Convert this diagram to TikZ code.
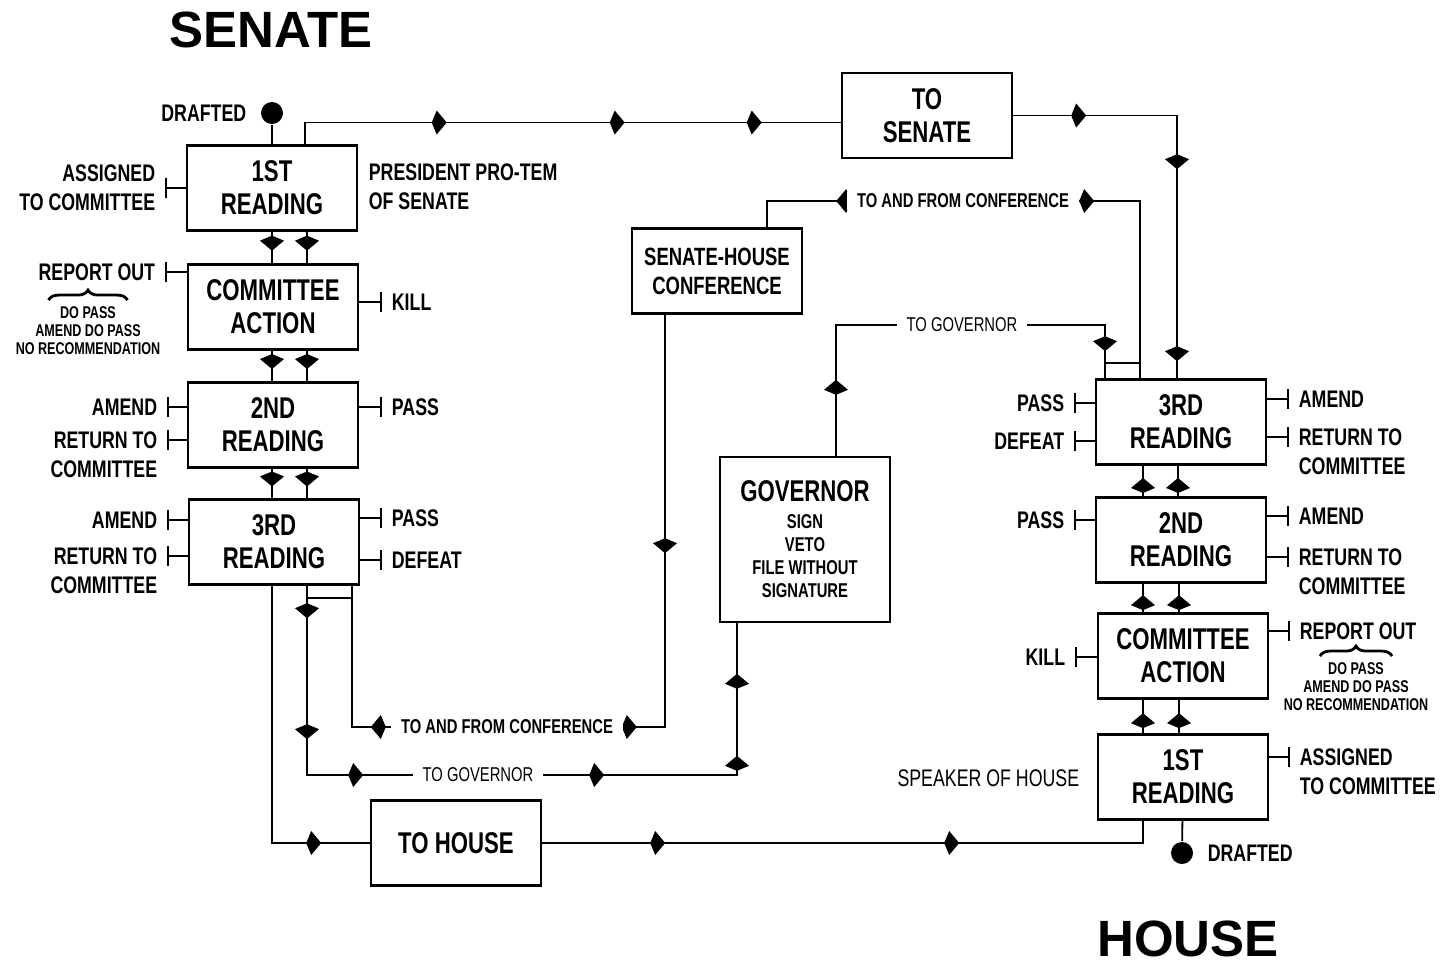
\documentclass[tikz,border=0pt]{standalone}
\usepackage{fontspec}
\setmainfont{Liberation Sans}
\newfontfamily\cond{Liberation Sans}[FakeStretch=0.74]
\usetikzlibrary{arrows.meta,decorations.markings,decorations.pathreplacing}

\tikzset{
  mk/.style={postaction={decorate,decoration={markings,
      mark=at position #1 with {\arrow{Kite[length=7.5pt,width=12pt,inset=2.5pt]}}}}},
  mkr/.style={postaction={decorate,decoration={markings,
      mark=at position #1 with {\arrowreversed{Kite[length=7.5pt,width=12pt,inset=2.5pt]}}}}},
}

\begin{document}
\begin{tikzpicture}[x=0.5pt,y=-0.5pt,line width=.9pt,
    box/.style={draw,line width=1.2pt,minimum width=85pt,minimum height=42.5pt,
      align=center,inner sep=0pt,font=\cond\bfseries\fontsize{15}{16.5}\selectfont},
    lbl/.style={inner xsep=4.5pt,inner ysep=0pt,font=\cond\bfseries\fontsize{12}{14.5}\selectfont},
    tiny/.style={inner sep=0pt,align=center,font=\cond\bfseries\fontsize{8.5}{9}\selectfont},
    online/.style={fill=white,inner xsep=5pt,inner ysep=1pt},
    stub/.style={-{Bar[width=10pt]}},
    brace/.style={decorate,line width=1.4pt,decoration={brace,amplitude=5pt}},
    dot/.style={circle,fill,inner sep=0pt,minimum size=11pt},
    title/.style={inner sep=0pt,font=\bfseries\fontsize{25.5}{28}\selectfont}]
  \useasboundingbox (0,0) rectangle (1446,966);

  \node[title] (senTitle) at (271,30) {SENATE};
  \node[title] (houTitle) at (1188,939) {HOUSE};

  % senate
  \node[dot,label={[lbl,label distance=2pt]left:DRAFTED}] (sdot) at (272,113) {};
  \node[box] (s1) at (272,188) {1ST\\READING};
  \node[box] (sc) at (273,307) {COMMITTEE\\ACTION};
  \node[box] (s2) at (273,425) {2ND\\READING};
  \node[box] (s3) at (274,542) {3RD\\READING};

  % middle
  \node[box] (toSen) at (927,115.5) {TO\\SENATE};
  \node[box,font=\cond\bfseries\fontsize{12.5}{14.5}\selectfont] (conf) at (717,271) {SENATE-HOUSE\\CONFERENCE};
  \node[box,minimum height=82.5pt,font=\cond\bfseries\fontsize{10}{11.5}\selectfont] (gov) at (805,539.5)
    {{\fontsize{15}{16.5}\selectfont GOVERNOR}\\[2pt] SIGN\\VETO\\FILE WITHOUT\\SIGNATURE};
  \node[box] (toHouse) at (456,843) {TO HOUSE};

  % house
  \node[box] (h3) at (1181,422) {3RD\\READING};
  \node[box] (h2) at (1181,540) {2ND\\READING};
  \node[box] (hc) at (1183,656) {COMMITTEE\\ACTION};
  \node[box] (h1) at (1183,777) {1ST\\READING};
  \node[dot,label={[lbl,label distance=2pt]right:DRAFTED}] (hdot) at (1182,853) {};

  \coordinate (cTop) at (1140,201);
  \coordinate (gTop) at (1105,325);
  \coordinate (cBot) at (352,727);
  \coordinate (gBot) at (737,775);

  % senate side labels
  \node[lbl,anchor=east,align=right] (sAssign) at (165,188) {ASSIGNED\\TO COMMITTEE};
  \node[lbl,anchor=west,align=left,inner xsep=0pt] (sPres) at (368,187) {PRESIDENT PRO-TEM\\OF SENATE};
  \node[lbl,anchor=east] (sReport) at (165,272) {REPORT OUT};
  \node[tiny] (sRec) at (88,331) {DO PASS\\AMEND DO PASS\\NO RECOMMENDATION};
  \node[lbl,anchor=west] (sKill) at (382,302) {KILL};
  \node[lbl,anchor=east] (s2Amend) at (167,407) {AMEND};
  \node[lbl,anchor=east,align=right] (s2Ret) at (167,454.5) {RETURN TO\\COMMITTEE};
  \node[lbl,anchor=west] (s2Pass) at (382,407) {PASS};
  \node[lbl,anchor=east] (s3Amend) at (167,520) {AMEND};
  \node[lbl,anchor=east,align=right] (s3Ret) at (167,570.5) {RETURN TO\\COMMITTEE};
  \node[lbl,anchor=west] (s3Pass) at (382,518) {PASS};
  \node[lbl,anchor=west] (s3Defeat) at (382,560) {DEFEAT};

  % house side labels
  \node[lbl,anchor=east] (h3Pass) at (1074,403) {PASS};
  \node[lbl,anchor=east] (h3Defeat) at (1074,441) {DEFEAT};
  \node[lbl,anchor=west] (h3Amend) at (1289,399) {AMEND};
  \node[lbl,anchor=west,align=left] (h3Ret) at (1289,451.5) {RETURN TO\\COMMITTEE};
  \node[lbl,anchor=east] (h2Pass) at (1074,520) {PASS};
  \node[lbl,anchor=west] (h2Amend) at (1289,516) {AMEND};
  \node[lbl,anchor=west,align=left] (h2Ret) at (1289,571.5) {RETURN TO\\COMMITTEE};
  \node[lbl,anchor=east] (hKill) at (1075,657) {KILL};
  \node[lbl,anchor=west] (hReport) at (1290,631) {REPORT OUT};
  \node[tiny] (hRec) at (1356,687) {DO PASS\\AMEND DO PASS\\NO RECOMMENDATION};
  \node[lbl,anchor=west,align=left] (hAssign) at (1290,771.5) {ASSIGNED\\TO COMMITTEE};
  \node[lbl,anchor=east,inner xsep=0pt,font=\cond\fontsize{12}{14.5}\selectfont] (hSpeak) at (1080,778) {SPEAKER OF HOUSE};

  % stubs
  \draw[stub] (s1.west |- sAssign.east) -- (sAssign.east);
  \draw[stub] (sc.west |- sReport.east) -- (sReport.east);
  \draw[stub] (sc.east |- sKill.west) -- (sKill.west);
  \draw[stub] (s2.west |- s2Amend.east) -- (s2Amend.east);
  \draw[stub] ([yshift=7.25pt]s2.west |- s2Ret.east) -- ([yshift=7.25pt]s2Ret.east);
  \draw[stub] (s2.east |- s2Pass.west) -- (s2Pass.west);
  \draw[stub] (s3.west |- s3Amend.east) -- (s3Amend.east);
  \draw[stub] ([yshift=7.25pt]s3.west |- s3Ret.east) -- ([yshift=7.25pt]s3Ret.east);
  \draw[stub] (s3.east |- s3Pass.west) -- (s3Pass.west);
  \draw[stub] (s3.east |- s3Defeat.west) -- (s3Defeat.west);
  \draw[stub] (h3.west |- h3Pass.east) -- (h3Pass.east);
  \draw[stub] (h3.west |- h3Defeat.east) -- (h3Defeat.east);
  \draw[stub] (h3.east |- h3Amend.west) -- (h3Amend.west);
  \draw[stub] ([yshift=7.25pt]h3.east |- h3Ret.west) -- ([yshift=7.25pt]h3Ret.west);
  \draw[stub] (h2.west |- h2Pass.east) -- (h2Pass.east);
  \draw[stub] (h2.east |- h2Amend.west) -- (h2Amend.west);
  \draw[stub] ([yshift=7.25pt]h2.east |- h2Ret.west) -- ([yshift=7.25pt]h2Ret.west);
  \draw[stub] (hc.west |- hKill.east) -- (hKill.east);
  \draw[stub] (hc.east |- hReport.west) -- (hReport.west);
  \draw[stub] ([yshift=7.25pt]h1.east |- hAssign.west) -- ([yshift=7.25pt]hAssign.west);
  \draw[brace] ([xshift=-19.75pt,yshift=3pt]sRec.north) -- ([xshift=19.75pt,yshift=3pt]sRec.north);
  \draw[brace] ([xshift=-18pt,yshift=3pt]hRec.north) -- ([xshift=18pt,yshift=3pt]hRec.north);

  % senate readings
  \draw (sdot) -- (s1);
  \draw[mk=.6] (s1.south) -- (sc.north -| s1.south);
  \draw[mk=.6] ([xshift=17.5pt]s1.south) -- ([xshift=17.5pt]s1.south |- sc.north);
  \draw[mk=.6] ([xshift=-.5pt]sc.south) -- ([xshift=-.5pt]sc.south |- s2.north);
  \draw[mk=.6] ([xshift=17pt]sc.south) -- ([xshift=17pt]sc.south |- s2.north);
  \draw[mk=.6] ([xshift=-.5pt]s2.south) -- ([xshift=-.5pt]s2.south |- s3.north);
  \draw[mk=.6] ([xshift=17pt]s2.south) -- ([xshift=17pt]s2.south |- s3.north);

  % house readings
  \draw[mk=.6] ([xshift=-20pt]h1.north) -- ([xshift=-20pt]h1.north |- hc.south);
  \draw[mk=.6] ([xshift=-2pt]h1.north) -- ([xshift=-2pt]h1.north |- hc.south);
  \draw[mk=.6] ([xshift=-20pt]hc.north) -- ([xshift=-20pt]hc.north |- h2.south);
  \draw[mk=.6] ([xshift=-2pt]hc.north) -- ([xshift=-2pt]hc.north |- h2.south);
  \draw[mk=.6] ([xshift=-19pt]h2.north) -- ([xshift=-19pt]h2.north |- h3.south);
  \draw[mk=.6] ([xshift=-1.5pt]h2.north) -- ([xshift=-1.5pt]h2.north |- h3.south);
  \draw (h1) -- (hdot);

  % between chambers
  \draw[mk=81.75pt,mk=170.75pt,mk=239.25pt] ([xshift=16.5pt]s1.north) |- ([yshift=-3.5pt]toSen.west);
  \draw[mk=36.5pt,mk=108.75pt,mk=204.75pt] (toSen.east) -| ([xshift=-2pt]h3.north);
  \draw[mkr=47.75pt,mk=176.75pt] ([xshift=25pt]conf.north) |- (cTop) -- (cTop |- h3.north);
  \draw[mk=119.25pt,mkr=220.25pt,mk=353.25pt] ([xshift=-26pt]conf.south) |- (cBot) -- (cBot |- s3.south);
  \draw ([xshift=16.5pt,yshift=-6pt]s3.south) -- ([yshift=-6pt]cBot |- s3.south);
  \draw[mk=16.25pt,mk=76.75pt,mk=122.75pt,mk=243.25pt,mk=319.25pt,mk=360.25pt]
    ([xshift=16.5pt]s3.south) |- (gBot) -- (gBot |- gov.south);
  \draw[mk=38pt,mk=213pt] ([xshift=15.5pt]gov.north) |- (gTop) -- (gTop |- h3.north);
  \draw ([yshift=7.5pt]gTop |- h3.north) -- ([yshift=7.5pt]cTop |- h3.north);
  \draw[mk=153.25pt] ([xshift=-1pt]s3.south) |- (toHouse.west);
  \draw[mk=61.5pt,mk=208.5pt] (toHouse.east) -| ([xshift=-20pt]h1.south);

  % labels on the lines
  \node[online,font=\cond\bfseries\fontsize{10}{12}\selectfont] (cfTop) at (963,201) {TO AND FROM CONFERENCE};
  \node[online,font=\cond\bfseries\fontsize{10}{12}\selectfont] (cfBot) at (507,727) {TO AND FROM CONFERENCE};
  \node[online,font=\cond\fontsize{10}{12}\selectfont] (gvTop) at (962,325) {TO GOVERNOR};
  \node[online,font=\cond\fontsize{10}{12}\selectfont] (gvBot) at (478,775) {TO GOVERNOR};
\end{tikzpicture}
\end{document}
